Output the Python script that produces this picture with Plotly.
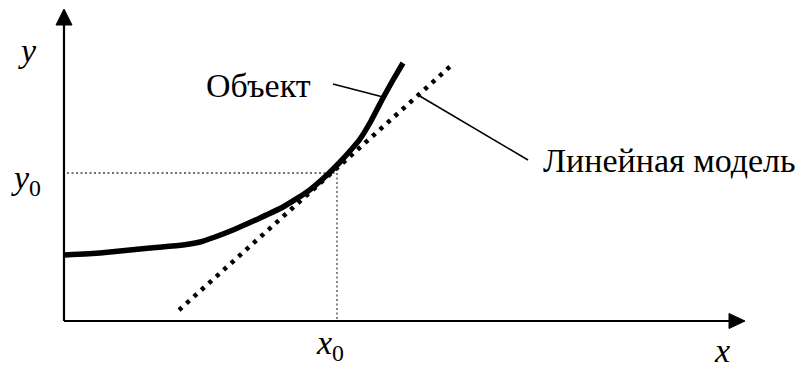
import plotly.graph_objects as go

# Object curve (data units, origin at axes intersection)
obj_x = [1, 36, 86, 119, 136, 151, 169, 196, 219, 243, 263, 276, 286, 296, 307, 319, 329, 339]
obj_y = [66, 68, 73, 76, 79, 84, 91, 103, 114, 129, 146, 159, 170, 182, 200, 223, 241, 258]

# Linear model (tangent line)
lin_x = [115, 390]
lin_y = [11, 258]

# Operating point
x0 = 273
y0 = 148

# Axes extents
x_axis_end = 681
y_axis_end = 312

# Leader lines
obj_lead_x = [269, 319]
obj_lead_y = [237, 224]
lin_lead_x = [354, 464]
lin_lead_y = [226, 161]

FONT = "Liberation Serif"
FS = 34

fig = go.Figure()

# axes
fig.add_trace(go.Scatter(x=[0, x_axis_end - 14], y=[0, 0], mode="lines",
                         line=dict(color="black", width=2.2), hoverinfo="skip"))
fig.add_trace(go.Scatter(x=[0, 0], y=[0, y_axis_end - 14], mode="lines",
                         line=dict(color="black", width=2.2), hoverinfo="skip"))
# arrowheads
fig.add_trace(go.Scatter(x=[x_axis_end, x_axis_end - 16, x_axis_end - 16, x_axis_end],
                         y=[0, 7.5, -7.5, 0], mode="lines", fill="toself",
                         fillcolor="black", line=dict(color="black", width=1), hoverinfo="skip"))
fig.add_trace(go.Scatter(x=[0, -8, 8, 0],
                         y=[y_axis_end, y_axis_end - 16, y_axis_end - 16, y_axis_end],
                         mode="lines", fill="toself",
                         fillcolor="black", line=dict(color="black", width=1), hoverinfo="skip"))

# operating point guide lines
fig.add_trace(go.Scatter(x=[3, x0], y=[y0, y0], mode="lines",
                         line=dict(color="#444", width=1.3, dash="2px,2.5px"), hoverinfo="skip"))
fig.add_trace(go.Scatter(x=[x0, x0], y=[y0, 1], mode="lines",
                         line=dict(color="#444", width=1.3, dash="2px,2.5px"), hoverinfo="skip"))

# linear model
fig.add_trace(go.Scatter(x=lin_x, y=lin_y, mode="lines",
                         line=dict(color="black", width=4.5, dash="4px,6px"), hoverinfo="skip"))

# object curve
fig.add_trace(go.Scatter(x=obj_x, y=obj_y, mode="lines",
                         line=dict(color="black", width=5.5, shape="spline", smoothing=0.4),
                         hoverinfo="skip"))

# leader lines
fig.add_trace(go.Scatter(x=obj_lead_x, y=obj_lead_y, mode="lines",
                         line=dict(color="black", width=1.6), hoverinfo="skip"))
fig.add_trace(go.Scatter(x=lin_lead_x, y=lin_lead_y, mode="lines",
                         line=dict(color="black", width=1.6), hoverinfo="skip"))

def label(text, x, y, xanchor="center", height=None):
    fig.add_annotation(x=x, y=y, text=text, showarrow=False, xanchor=xanchor,
                       yanchor="middle", height=height, valign="middle",
                       font=dict(family=FONT, size=FS, color="black"))

label("Объект", 140, 236, "left")
label("Линейная модель", 477, 161, "left")
label("<i>y</i>", -37, 271)
label("<i>y</i><sub>0</sub>", -38, 141)
label("<i>x</i><sub>0</sub>", 266, -24, height=34)
label("<i>x</i>", 658, -29, height=26)

fig.update_layout(
    width=800, height=367,
    margin=dict(l=0, r=0, t=0, b=0),
    paper_bgcolor="white", plot_bgcolor="white",
    showlegend=False,
    font=dict(family=FONT),
    xaxis=dict(range=[-64, 736], visible=False, fixedrange=True),
    yaxis=dict(range=[-46, 321], visible=False, fixedrange=True),
)

fig.write_html("out.html", config={"displayModeBar": False},
               post_script="document.body.style.margin='0px';document.body.style.overflow='hidden';")
